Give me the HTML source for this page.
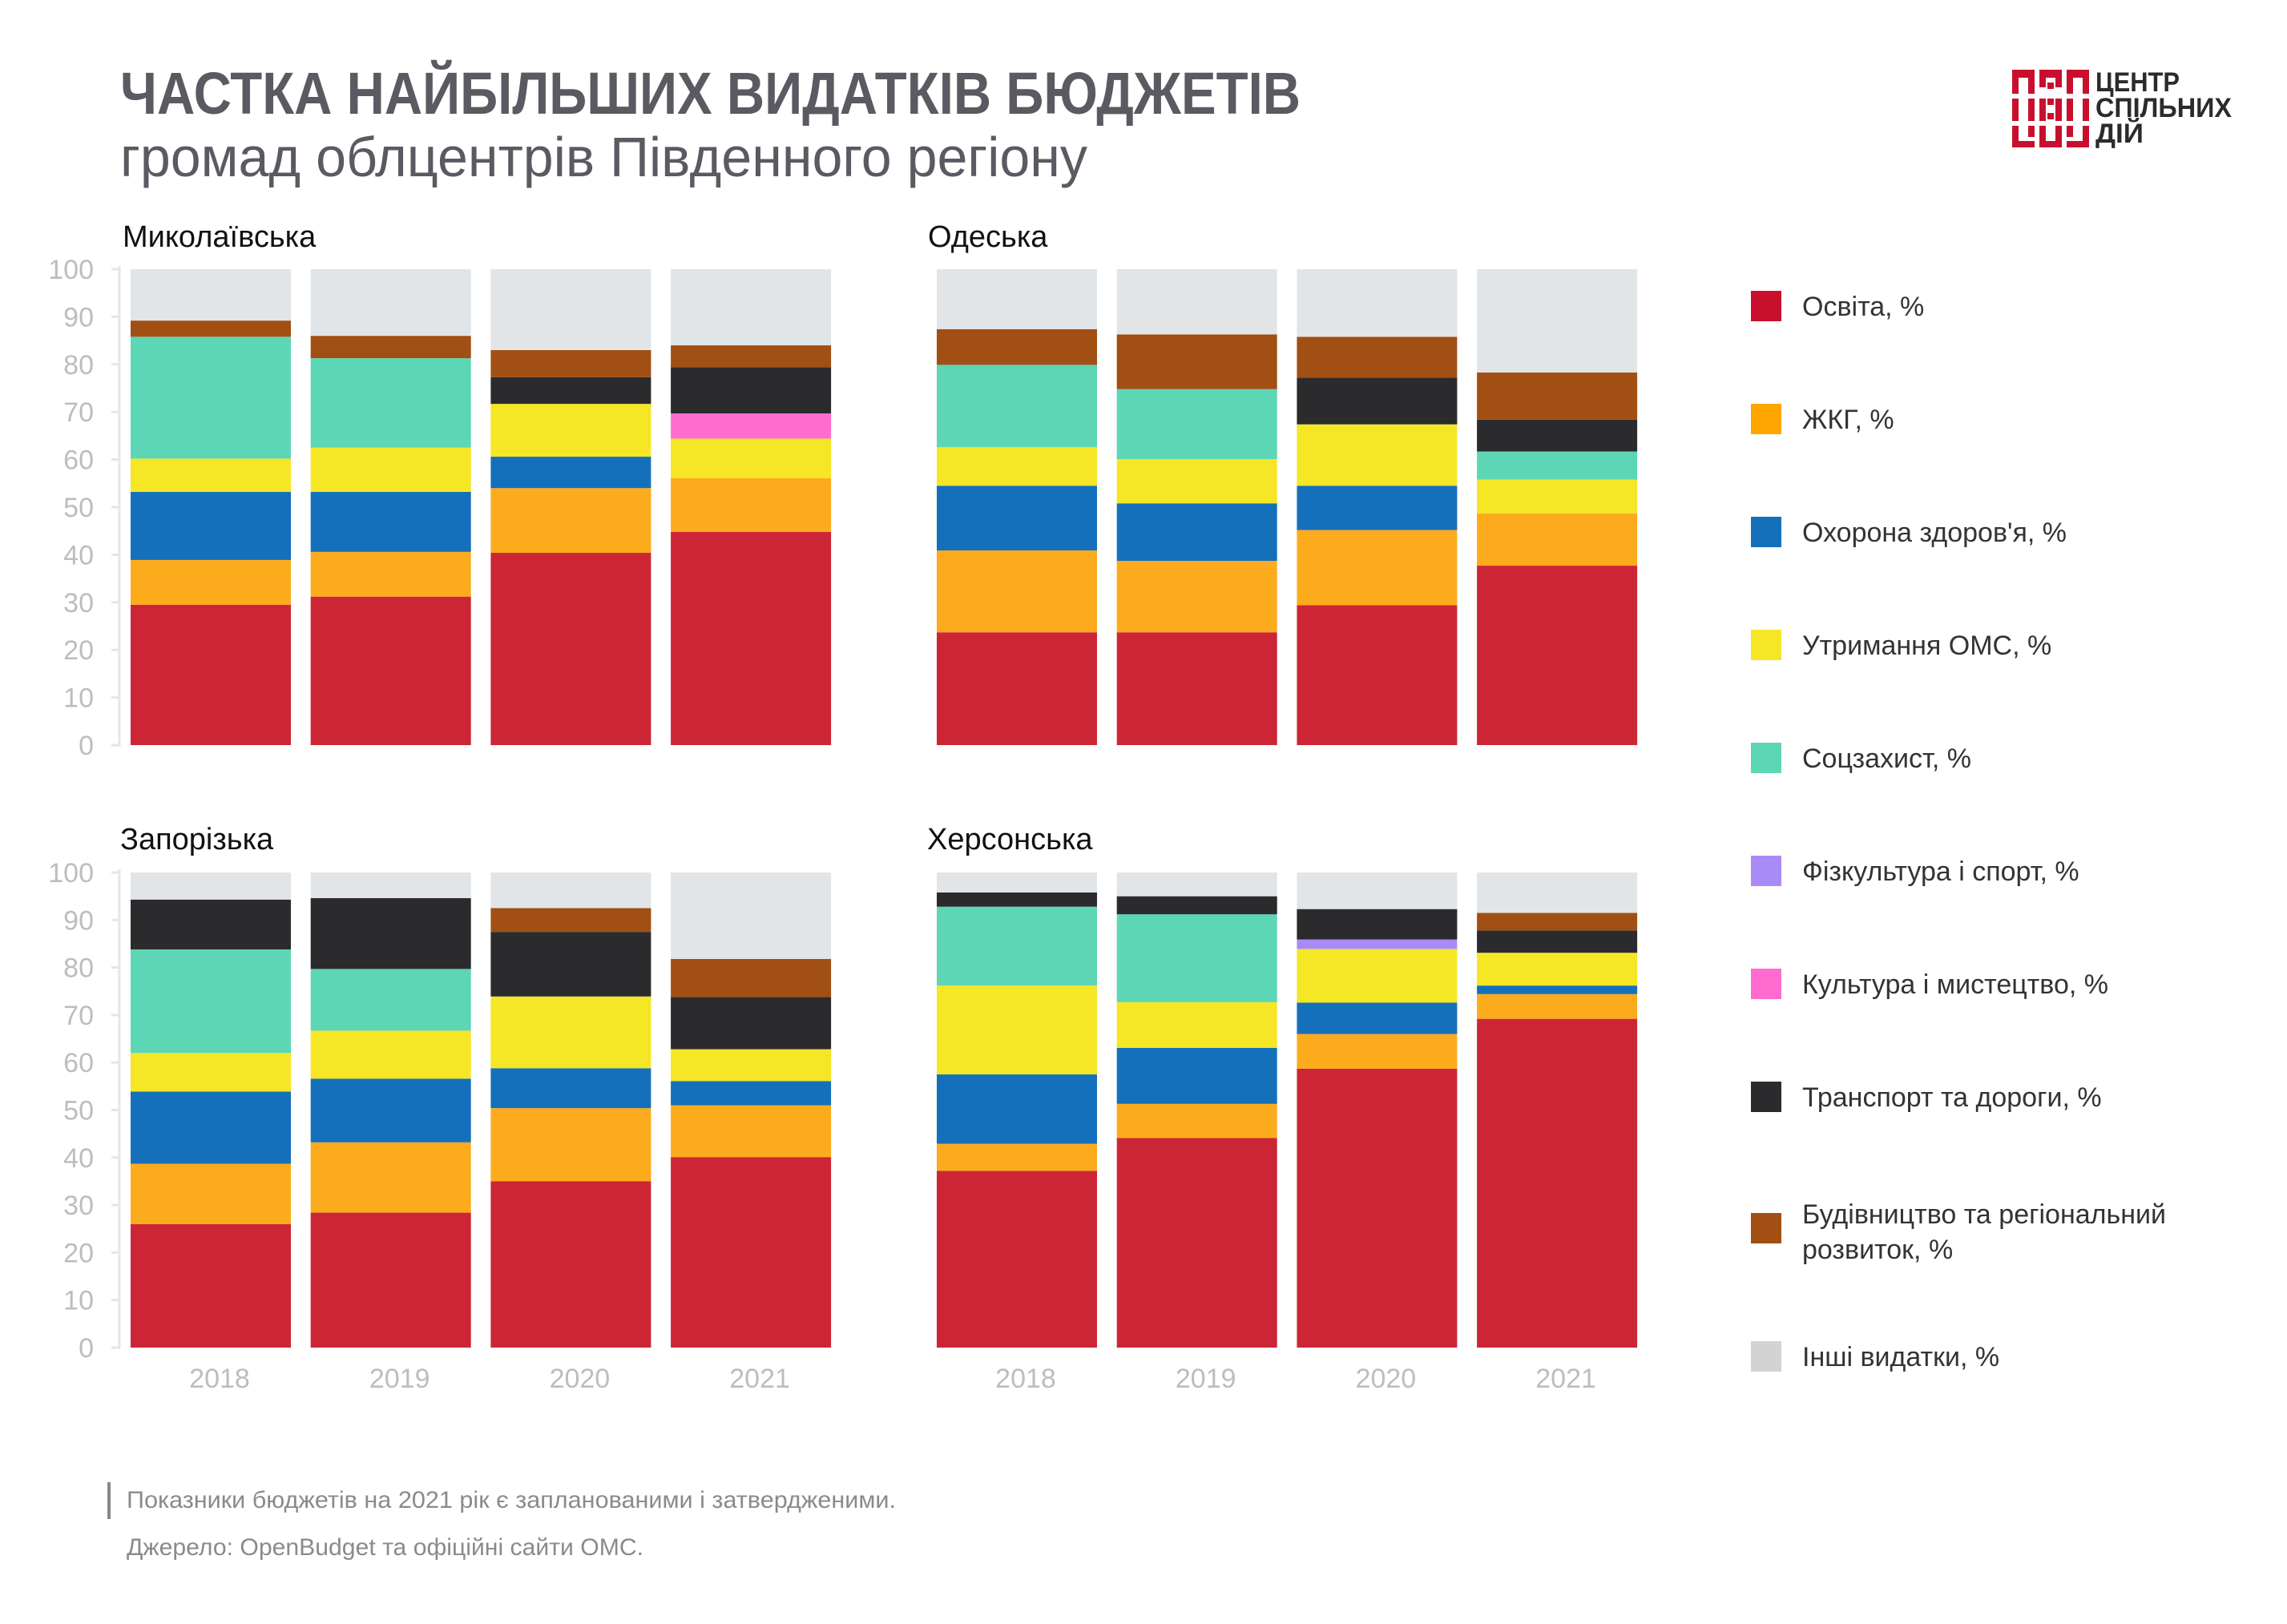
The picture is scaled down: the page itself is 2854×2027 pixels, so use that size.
<!DOCTYPE html>
<html><head><meta charset="utf-8">
<style>
html,body{margin:0;padding:0;background:#fff;}
svg{display:block;font-family:"Liberation Sans","DejaVu Sans",sans-serif;}
</style></head>
<body>
<svg id="root" width="2854" height="2027" viewBox="0 0 2854 2027">
<text x="150" y="142" font-size="74" font-weight="bold" fill="#5a5a62" textLength="1473" lengthAdjust="spacingAndGlyphs">ЧАСТКА НАЙБІЛЬШИХ ВИДАТКІВ БЮДЖЕТІВ</text>
<text x="150" y="220" font-size="70" fill="#5a5a62" textLength="1207" lengthAdjust="spacingAndGlyphs">громад облцентрів Південного регіону</text>
<g>
 <g fill="#c8102e">
  <rect x="2511" y="87" width="28" height="10"/><rect x="2511" y="87" width="8" height="30"/><rect x="2531" y="87" width="8" height="30"/>
  <rect x="2545" y="87" width="28" height="10"/><rect x="2545" y="87" width="8" height="22"/><rect x="2565" y="87" width="8" height="22"/><rect x="2555" y="103" width="8" height="8"/>
  <rect x="2579" y="87" width="28" height="10"/><rect x="2579" y="87" width="8" height="30"/><rect x="2599" y="87" width="8" height="30"/>
  <rect x="2511" y="123" width="8" height="28"/><rect x="2531" y="123" width="8" height="28"/><rect x="2545" y="123" width="8" height="28"/><rect x="2555" y="123" width="8" height="8"/><rect x="2555" y="141" width="8" height="8"/><rect x="2565" y="123" width="8" height="28"/><rect x="2579" y="123" width="8" height="28"/><rect x="2599" y="123" width="8" height="28"/>
  <rect x="2511" y="157" width="8" height="27"/><rect x="2511" y="176" width="28" height="8"/><rect x="2531" y="157" width="8" height="14"/>
  <rect x="2545" y="157" width="8" height="27"/><rect x="2545" y="176" width="28" height="8"/><rect x="2565" y="157" width="8" height="27"/>
  <rect x="2579" y="176" width="28" height="8"/><rect x="2599" y="157" width="8" height="27"/><rect x="2579" y="157" width="8" height="14"/>
 </g>
 <text x="2615" y="114" font-size="34" font-weight="bold" fill="#2b2b2d" textLength="105" lengthAdjust="spacingAndGlyphs">ЦЕНТР</text>
 <text x="2615" y="146" font-size="34" font-weight="bold" fill="#2b2b2d" textLength="170" lengthAdjust="spacingAndGlyphs">СПІЛЬНИХ</text>
 <text x="2615" y="178" font-size="34" font-weight="bold" fill="#2b2b2d" textLength="60" lengthAdjust="spacingAndGlyphs">ДІЙ</text>
</g>
<g id="charts"></g>
<g id="legend"></g>
<rect x="134" y="1850" width="4" height="46" fill="#888"/>
<text x="158" y="1882" font-size="30" fill="#8a8a8a" textLength="960" lengthAdjust="spacingAndGlyphs">Показники бюджетів на 2021 рік є запланованими і затвердженими.</text>
<text x="158" y="1941" font-size="30" fill="#8a8a8a" textLength="645" lengthAdjust="spacingAndGlyphs">Джерело: OpenBudget та офіційні сайти ОМС.</text>
</svg>
<script>
const years = ["2018","2019","2020","2021"];
const categories = ["Освіта, %","ЖКГ, %","Охорона здоров'я, %","Утримання ОМС, %","Соцзахист, %","Фізкультура і спорт, %","Культура і мистецтво, %","Транспорт та дороги, %","Будівництво та регіональний розвиток, %","Інші  видатки, %"];
const regions = ["Миколаївська","Одеська","Запорізька","Херсонська"];
const yTicks = [0,10,20,30,40,50,60,70,80,90,100];
// values per year: [osvita, zhkg, health, oms, social, sport, culture, transport, building]; "other" = remainder to 100
const mykolaiv = [
 [29.5,9.4,14.3,7.0,25.6,0,0,0,3.4],
 [31.2,9.4,12.6,9.3,18.8,0,0,0,4.7],
 [40.4,13.6,6.6,11.1,0,0,0,5.6,5.7],
 [44.8,11.3,0,8.3,0,0,5.3,9.7,4.6]];
const odesa = [
 [23.7,17.2,13.6,8.1,17.3,0,0,0,7.5],
 [23.7,15.0,12.1,9.3,14.7,0,0,0,11.5],
 [29.4,15.8,9.3,12.9,0,0,0,9.8,8.6],
 [37.7,11.0,0,7.1,5.9,0,0,6.7,9.9]];
const zaporizhzhia = [
 [26.0,12.7,15.2,8.1,21.8,0,0,10.5,0],
 [28.4,14.8,13.4,10.1,13.0,0,0,14.9,0],
 [35.0,15.4,8.4,15.1,0,0,0,13.6,5.0],
 [40.1,10.9,5.1,6.7,0,0,0,11.0,8.0]];
const kherson = [
 [37.2,5.7,14.6,18.7,16.6,0,0,3.0,0],
 [44.1,7.2,11.8,9.6,18.5,0,0,3.8,0],
 [58.7,7.3,6.6,11.3,0,2.0,0,6.4,0],
 [69.2,5.2,1.8,6.9,0,0,0,4.7,3.7]];

const regionData=[mykolaiv,odesa,zaporizhzhia,kherson];
const colors=["#cc2636","#fcab1c","#1570bb","#f5e626","#5dd6b6","#a98bf8","#ff6cd0","#2b2b2d","#a14f13","#e1e5e8"];
const legendColors=["#c8102e","#ffa500","#1570bb","#f5e626","#5dd6b6","#a98bf8","#ff6cd0","#2b2b2d","#a14f13","#d3d3d3"];
const NS="http://www.w3.org/2000/svg";
function mk(tag,attrs,parent){const e=document.createElementNS(NS,tag);for(const k in attrs)e.setAttribute(k,attrs[k]);parent.appendChild(e);return e;}
const panels=[{x0:163,top:336,bot:930,title:[153,308],axis:true,years:false},
 {x0:1169,top:336,bot:930,title:[1158,308],axis:false,years:false},
 {x0:163,top:1089,bot:1682,title:[150,1060],axis:true,years:true},
 {x0:1169,top:1089,bot:1682,title:[1157,1060],axis:false,years:true}];
const charts=document.getElementById('charts');
panels.forEach((p,pi)=>{
 const g=mk('g',{},charts);
 
 
 const yS=v=>p.bot-(v/100)*(p.bot-p.top);
 const xS=i=>p.x0+i*224.7;
 const bw=200;
 const t=mk('text',{x:p.title[0],y:p.title[1],'font-size':38,fill:'#111'},g);
 t.textContent=regions[pi];
 
 
 if(p.axis){
  const ax=mk('line',{x1:149,x2:149,y1:p.top-4,y2:p.bot+2,stroke:'#e6e6e6','stroke-width':3},g);
  
  
  yTicks.forEach(v=>{
   const tk=mk('line',{x1:139,x2:149,y1:yS(v),y2:yS(v),stroke:'#e6e6e6','stroke-width':3},g);
   
   
   const tl=mk('text',{x:117,y:yS(v)+12,'font-size':34,fill:'#bdbdbd','text-anchor':'end'},g);
   tl.textContent=v;
   
   
  });
 }
 regionData[pi].forEach((vals,yi)=>{
  let cum=0;
  const all=vals.concat([Math.max(0,100-vals.reduce((a,b)=>a+b,0))]);
  all.forEach((v,ci)=>{
   if(v<=0)return;
   const y1=yS(cum+v),y0=yS(cum);
   const r=mk('rect',{x:xS(yi),y:y1,width:bw,height:y0-y1,fill:colors[ci]},g);
   
   
   cum+=v;
  });
  if(p.years){
   const yl=mk('text',{x:xS(yi)+bw/2+11,y:p.bot+50,'font-size':34,fill:'#bdbdbd','text-anchor':'middle'},g);
   yl.textContent=years[yi];
   
   
  }
 });
});
const legend=document.getElementById('legend');
const ly=[382,523,664,805,946,1087,1228,1369,1533,1693];
categories.forEach((c,i)=>{
 const g=mk('g',{},legend);
 
 
 const sq=mk('rect',{x:2185,y:ly[i]-19,width:38,height:38,fill:legendColors[i]},g);
 
 
 if(i===8){
  const a=mk('text',{x:2249,y:1527,'font-size':34,fill:'#333'},g);a.textContent='Будівництво та регіональний';
  const b=mk('text',{x:2249,y:1571,'font-size':34,fill:'#333'},g);b.textContent='розвиток, %';
 } else {
  const t=mk('text',{x:2249,y:ly[i]+12,'font-size':34,fill:'#333'},g);t.textContent=c;
 }
});
</script>
</body></html>
